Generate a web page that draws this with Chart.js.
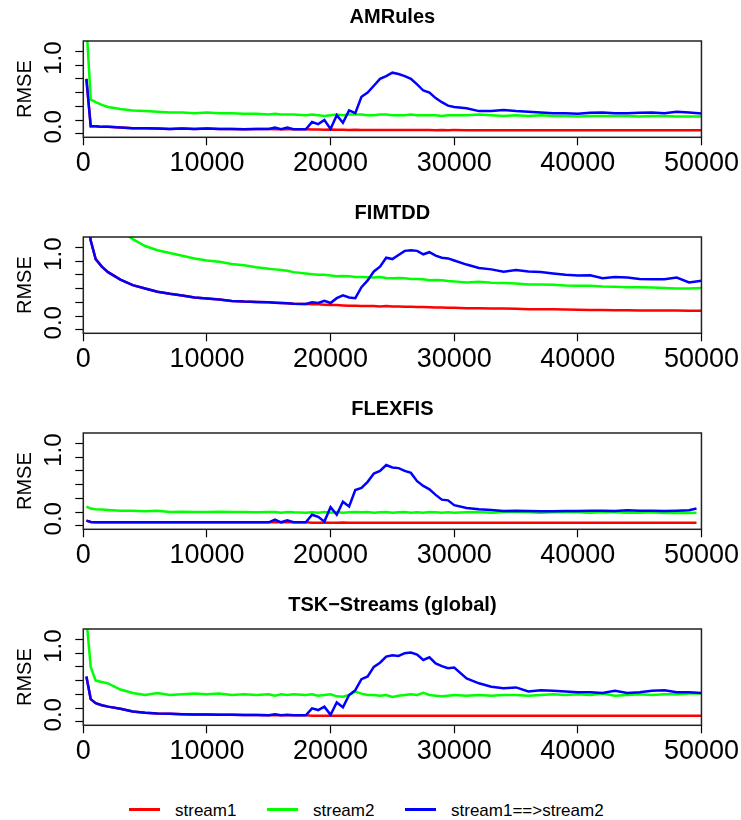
<!DOCTYPE html>
<html>
<head>
<meta charset="utf-8">
<title>RMSE streams</title>
<script src="https://cdn.jsdelivr.net/npm/chart.js@4.4.0/dist/chart.umd.min.js"></script>
<style>
  body { margin: 0; background: #fff; }
  #wrap { position: relative; width: 741px; height: 820px; overflow: hidden; font-family: "Liberation Sans", Arial, sans-serif; }
  .panel { position: absolute; left: 0; }
  .key { position: absolute; top: 808px; height: 3px; width: 31px; }
  .lbl { position: absolute; top: 800px; font-size: 17px; line-height: 22px; color: #000; }
</style>
</head>
<body>
<div id="wrap">
  <canvas class="panel" id="p0" width="741" height="196" style="top:0px"></canvas>
  <canvas class="panel" id="p1" width="741" height="196" style="top:196px"></canvas>
  <canvas class="panel" id="p2" width="741" height="196" style="top:392px"></canvas>
  <canvas class="panel" id="p3" width="741" height="196" style="top:588px"></canvas>

  <div class="key" style="left:129px;background:#ff0000"></div>
  <span class="lbl" style="left:175px">stream1</span>
  <div class="key" style="left:267px;background:#00ff00"></div>
  <span class="lbl" style="left:313px">stream2</span>
  <div class="key" style="left:405px;background:#0000ff"></div>
  <span class="lbl" style="left:451px">stream1==&gt;stream2</span>
</div>

<script>
// x positions (instances seen) shared by the panels
const xs = [250, 600, 1000, 1500, 2000, 3000, 4000, 5000, 6000, 7000, 8000, 9000, 10000,
  11000, 12000, 13000, 14000, 15000, 15500, 16000, 16500, 17000, 18000, 18500, 19000, 19500,
  20000, 20500, 21000, 21500, 22000, 22500, 23000, 23500, 24000, 24500, 25000, 25500, 26000,
  26500, 27000, 27500, 28000, 28500, 29000, 29500, 30000, 31000, 32000, 33000, 34000, 35000,
  36000, 37000, 38000, 39000, 40000, 41000, 42000, 43000, 44000, 45000, 46000, 47000, 48000,
  49000, 50000];
// FLEXFIS stops a little before the end
const xsFlex = xs.slice(0, -1).concat([49600]);

const titles = ["AMRules", "FIMTDD", "FLEXFIS", "TSK\u2212Streams (global)"];
const seriesNames = ["stream1", "stream2", "stream1==>stream2"];
const yTicks = [0, 0.2, 0.4, 0.6, 0.8, 1.0, 1.2];
const yLabels = [0, 1];
const xTicks = [0, 10000, 20000, 30000, 40000, 50000];

// AMRules
const amRed = [0.80, 0.11, 0.11, 0.10, 0.10, 0.09, 0.08, 0.08, 0.075, 0.07, 0.075, 0.07, 0.075,
  0.07, 0.07, 0.065, 0.07, 0.07, 0.065, 0.065, 0.065, 0.065, 0.065, 0.06, 0.06, 0.058, 0.06,
  0.057, 0.058, 0.056, 0.057, 0.055, 0.056, 0.055, 0.056, 0.054, 0.055, 0.054, 0.055, 0.053,
  0.054, 0.053, 0.054, 0.052, 0.053, 0.052, 0.053, 0.052, 0.052, 0.051, 0.052, 0.051, 0.052,
  0.05, 0.051, 0.05, 0.051, 0.05, 0.05, 0.051, 0.05, 0.05, 0.049, 0.05, 0.05, 0.049, 0.05];
const amGreen = [1.6, 0.50, 0.46, 0.42, 0.39, 0.36, 0.34, 0.33, 0.32, 0.31, 0.31, 0.30, 0.31,
  0.30, 0.30, 0.29, 0.29, 0.28, 0.29, 0.28, 0.28, 0.28, 0.27, 0.28, 0.27, 0.26, 0.27, 0.28,
  0.27, 0.28, 0.28, 0.28, 0.27, 0.27, 0.28, 0.28, 0.27, 0.27, 0.27, 0.28, 0.27, 0.27, 0.27,
  0.27, 0.26, 0.27, 0.27, 0.27, 0.28, 0.27, 0.26, 0.27, 0.26, 0.27, 0.26, 0.26, 0.25, 0.26,
  0.26, 0.26, 0.26, 0.25, 0.26, 0.26, 0.25, 0.25, 0.25];
const amBlue = [0.80, 0.11, 0.11, 0.10, 0.10, 0.09, 0.08, 0.08, 0.075, 0.07, 0.075, 0.07, 0.075,
  0.07, 0.07, 0.065, 0.07, 0.07, 0.09, 0.065, 0.09, 0.065, 0.065, 0.17, 0.14, 0.20, 0.07, 0.27,
  0.16, 0.34, 0.30, 0.54, 0.60, 0.70, 0.80, 0.84, 0.89, 0.87, 0.84, 0.80, 0.72, 0.63, 0.60,
  0.52, 0.46, 0.41, 0.39, 0.37, 0.33, 0.33, 0.345, 0.33, 0.32, 0.31, 0.30, 0.30, 0.29, 0.305,
  0.31, 0.30, 0.30, 0.305, 0.31, 0.30, 0.32, 0.31, 0.295];

// FIMTDD
const fiRed = [1.8, 1.30, 1.03, 0.92, 0.84, 0.73, 0.65, 0.60, 0.555, 0.525, 0.50, 0.47, 0.455,
  0.44, 0.42, 0.41, 0.405, 0.40, 0.395, 0.39, 0.385, 0.38, 0.375, 0.37, 0.37, 0.365, 0.36, 0.36,
  0.355, 0.35, 0.35, 0.345, 0.345, 0.345, 0.34, 0.345, 0.34, 0.34, 0.335, 0.335, 0.33, 0.33,
  0.328, 0.325, 0.325, 0.32, 0.32, 0.315, 0.315, 0.31, 0.31, 0.305, 0.30, 0.30, 0.298, 0.295,
  0.29, 0.287, 0.287, 0.285, 0.283, 0.282, 0.28, 0.28, 0.279, 0.275, 0.277];
const fiGreen = [2.5, 2.2, 2.0, 1.8, 1.65, 1.45, 1.32, 1.22, 1.16, 1.12, 1.08, 1.04, 1.01, 0.99,
  0.96, 0.94, 0.91, 0.89, 0.88, 0.87, 0.86, 0.84, 0.82, 0.81, 0.80, 0.80, 0.79, 0.78, 0.785,
  0.78, 0.77, 0.77, 0.765, 0.76, 0.77, 0.755, 0.75, 0.755, 0.75, 0.74, 0.74, 0.735, 0.72, 0.725,
  0.72, 0.71, 0.705, 0.69, 0.70, 0.685, 0.68, 0.675, 0.66, 0.66, 0.655, 0.645, 0.64, 0.64, 0.63,
  0.625, 0.62, 0.62, 0.615, 0.61, 0.60, 0.60, 0.61];
const fiBlue = [1.8, 1.30, 1.03, 0.92, 0.84, 0.73, 0.65, 0.60, 0.555, 0.525, 0.50, 0.47, 0.455,
  0.44, 0.42, 0.41, 0.405, 0.40, 0.395, 0.39, 0.385, 0.38, 0.375, 0.40, 0.39, 0.42, 0.39, 0.46,
  0.50, 0.47, 0.46, 0.62, 0.72, 0.85, 0.92, 1.05, 1.03, 1.09, 1.15, 1.16, 1.15, 1.10, 1.13, 1.08,
  1.05, 1.04, 1.01, 0.95, 0.90, 0.88, 0.845, 0.87, 0.85, 0.84, 0.82, 0.80, 0.79, 0.795, 0.75,
  0.77, 0.76, 0.74, 0.735, 0.735, 0.76, 0.69, 0.715];

// FLEXFIS
const flRed = [0.075, 0.055, 0.05, 0.05, 0.05, 0.05, 0.05, 0.05, 0.05, 0.05, 0.05, 0.05, 0.05,
  0.05, 0.05, 0.05, 0.05, 0.05, 0.05, 0.05, 0.05, 0.05, 0.05, 0.045, 0.045, 0.046, 0.045, 0.045,
  0.046, 0.045, 0.045, 0.044, 0.045, 0.045, 0.044, 0.045, 0.045, 0.044, 0.045, 0.044, 0.045,
  0.044, 0.045, 0.044, 0.045, 0.044, 0.044, 0.045, 0.044, 0.044, 0.045, 0.044, 0.044, 0.044,
  0.045, 0.044, 0.044, 0.044, 0.045, 0.044, 0.044, 0.044, 0.044, 0.045, 0.044, 0.044, 0.044];
const flGreen = [0.28, 0.25, 0.24, 0.235, 0.23, 0.22, 0.22, 0.21, 0.22, 0.20, 0.205, 0.20, 0.20,
  0.205, 0.20, 0.20, 0.195, 0.20, 0.20, 0.19, 0.20, 0.195, 0.19, 0.195, 0.19, 0.20, 0.19, 0.20,
  0.19, 0.195, 0.20, 0.195, 0.20, 0.19, 0.195, 0.20, 0.19, 0.195, 0.20, 0.19, 0.195, 0.19, 0.20,
  0.195, 0.19, 0.195, 0.19, 0.195, 0.20, 0.19, 0.20, 0.20, 0.195, 0.19, 0.195, 0.20, 0.195, 0.19,
  0.20, 0.195, 0.19, 0.19, 0.195, 0.185, 0.19, 0.185, 0.19];
const flBlue = [0.075, 0.055, 0.05, 0.05, 0.05, 0.05, 0.05, 0.05, 0.05, 0.05, 0.05, 0.05, 0.05,
  0.05, 0.05, 0.05, 0.05, 0.05, 0.09, 0.05, 0.08, 0.05, 0.05, 0.16, 0.13, 0.06, 0.27, 0.16, 0.35,
  0.28, 0.52, 0.55, 0.64, 0.76, 0.80, 0.885, 0.85, 0.84, 0.80, 0.77, 0.65, 0.58, 0.53, 0.45, 0.38,
  0.37, 0.30, 0.26, 0.24, 0.23, 0.215, 0.22, 0.215, 0.21, 0.21, 0.215, 0.215, 0.22, 0.22, 0.215,
  0.225, 0.22, 0.22, 0.215, 0.22, 0.225, 0.25];

// TSK-Streams (global)
const tsRed = [0.66, 0.33, 0.27, 0.24, 0.22, 0.19, 0.15, 0.13, 0.12, 0.115, 0.11, 0.107, 0.105,
  0.10, 0.10, 0.098, 0.097, 0.095, 0.095, 0.095, 0.095, 0.095, 0.095, 0.088, 0.087, 0.088,
  0.086, 0.087, 0.088, 0.086, 0.087, 0.086, 0.088, 0.087, 0.086, 0.087, 0.086, 0.088, 0.087,
  0.086, 0.087, 0.086, 0.087, 0.088, 0.086, 0.087, 0.086, 0.087, 0.086, 0.087, 0.086, 0.087,
  0.086, 0.087, 0.086, 0.087, 0.086, 0.087, 0.086, 0.087, 0.086, 0.087, 0.086, 0.087, 0.086,
  0.087, 0.086];
const tsGreen = [1.5, 0.80, 0.60, 0.58, 0.56, 0.47, 0.42, 0.39, 0.42, 0.39, 0.40, 0.41, 0.40,
  0.41, 0.39, 0.40, 0.39, 0.40, 0.38, 0.40, 0.39, 0.40, 0.39, 0.40, 0.38, 0.39, 0.40, 0.37, 0.365,
  0.39, 0.44, 0.41, 0.39, 0.39, 0.38, 0.39, 0.36, 0.38, 0.39, 0.40, 0.39, 0.42, 0.39, 0.38, 0.37,
  0.38, 0.39, 0.38, 0.39, 0.38, 0.39, 0.39, 0.38, 0.39, 0.40, 0.39, 0.40, 0.39, 0.41, 0.38, 0.39,
  0.40, 0.39, 0.40, 0.40, 0.41, 0.41];
const tsBlue = [0.66, 0.33, 0.27, 0.24, 0.22, 0.19, 0.15, 0.13, 0.12, 0.115, 0.11, 0.107, 0.105,
  0.10, 0.10, 0.098, 0.097, 0.095, 0.11, 0.095, 0.10, 0.095, 0.095, 0.195, 0.17, 0.22, 0.10, 0.28,
  0.21, 0.39, 0.46, 0.62, 0.66, 0.80, 0.86, 0.95, 0.97, 0.96, 1.00, 1.01, 0.98, 0.90, 0.94, 0.85,
  0.81, 0.78, 0.79, 0.63, 0.56, 0.51, 0.49, 0.50, 0.44, 0.46, 0.45, 0.44, 0.43, 0.43, 0.42, 0.45,
  0.42, 0.43, 0.45, 0.46, 0.43, 0.43, 0.42];

const panels = [
  { x: xs, red: amRed, green: amGreen, blue: amBlue },
  { x: xs, red: fiRed, green: fiGreen, blue: fiBlue },
  { x: xsFlex, red: flRed, green: flGreen, blue: flBlue },
  { x: xs, red: tsRed, green: tsGreen, blue: tsBlue }
];

const colors = ["#ff0000", "#00ff00", "#0000ff"];

function pts(xv, yv) {
  return xv.map((x, i) => ({ x: x, y: yv[i] }));
}

// R style box and rotated y labels
const rBox = {
  id: "rBox",
  afterDraw(chart) {
    const ctx = chart.ctx;
    const a = chart.chartArea;
    const ys = chart.scales.y;
    ctx.save();
    ctx.strokeStyle = "#222";
    ctx.lineWidth = 1.5;
    ctx.strokeRect(a.left, a.top, a.right - a.left, a.bottom - a.top);
    ctx.fillStyle = "#000";
    ctx.font = "24px 'Liberation Sans', Arial, sans-serif";
    ctx.textAlign = "center";
    ctx.textBaseline = "middle";
    yLabels.forEach(v => {
      ctx.save();
      ctx.translate(54, ys.getPixelForValue(v) - 7);
      ctx.rotate(-Math.PI / 2);
      ctx.fillText(v.toFixed(1), 0, 0);
      ctx.restore();
    });
    ctx.restore();
  }
};

panels.forEach((p, k) => {
  const data = [p.red, p.green, p.blue];
  new Chart(document.getElementById("p" + k), {
    type: "line",
    data: {
      datasets: data.map((d, i) => ({
        label: seriesNames[i],
        data: pts(p.x, d),
        borderColor: colors[i],
        borderWidth: 2.5,
        pointRadius: 0,
        fill: false,
        tension: 0,
        order: 3 - i
      }))
    },
    options: {
      responsive: false,
      animation: false,
      events: [],
      layout: { padding: { left: 0, right: 38, top: 0, bottom: 0 } },
      plugins: {
        legend: { display: false },
        tooltip: { enabled: false },
        title: {
          display: true,
          text: titles[k],
          fullSize: false,
          color: "#000",
          font: { family: "'Liberation Sans', Arial, sans-serif", size: 20, weight: "bold" },
          padding: { top: 5, bottom: 12 }
        }
      },
      scales: {
        x: {
          type: "linear",
          min: 0,
          max: 50000,
          afterBuildTicks: s => { s.ticks = xTicks.map(v => ({ value: v })); },
          afterFit: s => { s.height = 58.7; },
          grid: { drawOnChartArea: false, tickLength: 8, color: "#000", tickWidth: 1.2 },
          border: { display: false },
          ticks: {
            color: "#000",
            padding: 2,
            maxRotation: 0,
            autoSkip: false,
            font: { family: "'Liberation Sans', Arial, sans-serif", size: 27 },
            callback: v => String(v)
          }
        },
        y: {
          min: -0.052,
          max: 1.352,
          afterBuildTicks: s => { s.ticks = yTicks.map(v => ({ value: v })); },
          afterFit: s => { s.width = 83.3; },
          grid: { drawOnChartArea: false, tickLength: 8, color: "#000", tickWidth: 1.2 },
          border: { display: false },
          ticks: { display: false },
          title: {
            display: true,
            text: "RMSE",
            color: "#000",
            font: { family: "'Liberation Sans', Arial, sans-serif", size: 20 },
            padding: { top: 13, bottom: 0 }
          }
        }
      }
    },
    plugins: [rBox]
  });
});
</script>
</body>
</html>
